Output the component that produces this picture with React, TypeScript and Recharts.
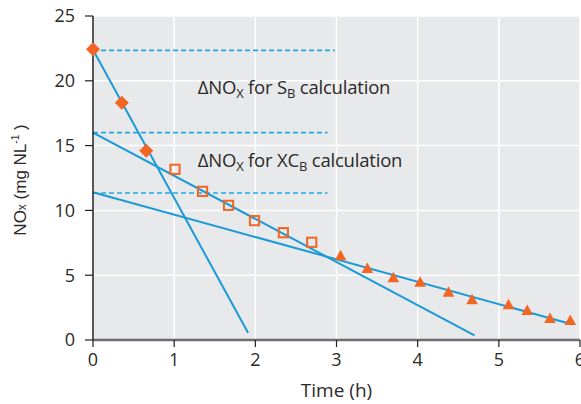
import React from "react";
import {
  ComposedChart,
  XAxis,
  YAxis,
  CartesianGrid,
  Line,
  Scatter,
  ReferenceLine,
  ReferenceDot,
} from "recharts";

// ---- data ----
const xTicks = [0, 1, 2, 3, 4, 5, 6];
const yTicks = [0, 5, 10, 15, 20, 25];

const diamondT = [0, 0.355, 0.656];
const diamondV = [22.43, 18.31, 14.61];

const squareT = [1.01, 1.35, 1.67, 1.99, 2.345, 2.695];
const squareV = [13.17, 11.47, 10.39, 9.21, 8.28, 7.54];

const triangleT = [3.05, 3.38, 3.7, 4.03, 4.38, 4.67, 5.12, 5.35, 5.63, 5.88];
const triangleV = [6.46, 5.48, 4.76, 4.42, 3.65, 3.06, 2.68, 2.24, 1.62, 1.47];

// fitted trend lines: [start t, start v, end t, end v]
const trendS = [0, 22.4, 1.91, 0.56];
const trendXC = [0, 16.0, 4.7, 0.36];
const trendSlow = [0, 11.4, 5.91, 1.2];

// dashed reference levels
const dashLevels = [22.35, 16.0, 11.34];
const dashEnds = [2.98, 2.89, 2.89];

// annotation anchors (t, v)
const noteS = [1.29, 18.96];
const noteXC = [1.29, 13.37];

const toPts = (t: number[], v: number[]) => t.map((x, i) => ({ x, y: v[i] }));
const seg = (s: number[]) => [
  { x: s[0], y: s[1] },
  { x: s[2], y: s[3] },
];

const ORANGE = "#f26522";
const BLUE = "#1a9ad6";
const DASH = "#22a8e4";
const TXT = "#2b2a29";
const FONT = "'Open Sans', sans-serif";

const Diamond = (p: any) => {
  const { cx, cy } = p;
  const r = 7;
  return (
    <polygon
      points={`${cx},${cy - r} ${cx + r},${cy} ${cx},${cy + r} ${cx - r},${cy}`}
      fill={ORANGE}
    />
  );
};

const Square = (p: any) => {
  const { cx, cy } = p;
  const h = 4.6;
  return (
    <rect
      x={cx - h}
      y={cy - h}
      width={2 * h}
      height={2 * h}
      fill="none"
      stroke={ORANGE}
      strokeWidth={2}
    />
  );
};

const Triangle = (p: any) => {
  const { cx, cy } = p;
  return (
    <polygon
      points={`${cx},${cy - 6.5} ${cx + 5.8},${cy + 4} ${cx - 5.8},${cy + 4}`}
      fill={ORANGE}
    />
  );
};

const NoteShape = (label: "S" | "XC") => (p: any) => {
  const { cx, cy } = p;
  return (
    <text x={cx} y={cy} fill={TXT} fontFamily={FONT} fontSize={18.5} letterSpacing={-0.2}>
      <tspan>ΔNO</tspan>
      <tspan fontSize={13} dy={4}>X</tspan>
      <tspan dy={-4}>{label === "S" ? " for S" : " for XC"}</tspan>
      <tspan fontSize={13} dy={4}>B</tspan>
      <tspan dy={-4}> calculation</tspan>
    </text>
  );
};

const YLabel = () => (
  <text
    x={0}
    y={0}
    transform="translate(26,180) rotate(-90)"
    textAnchor="middle"
    fill={TXT}
    fontFamily="'Liberation Sans', Arial, sans-serif"
    fontSize={17}
  >
    <tspan>NO</tspan>
    <tspan fontSize={12}>x</tspan>
    <tspan> (mg NL</tspan>
    <tspan fontSize={10} dy={-7}>-1</tspan>
    <tspan dy={7}> )</tspan>
  </text>
);

const XLabel = (p: any) => {
  const vb = p.viewBox || {};
  return (
    <text
      x={vb.x + vb.width / 2}
      y={397}
      textAnchor="middle"
      fill={TXT}
      fontFamily={FONT}
      fontSize={19}
    >
      Time (h)
    </text>
  );
};

export default function App() {
  return (
    <div style={{ position: "absolute", left: 0, top: 0, background: "#fff" }}>
      <ComposedChart
        width={581}
        height={404}
        margin={{ top: 16, right: 1, bottom: 0, left: 0 }}
      >
        <CartesianGrid fill="#e8e9eb" stroke="#ffffff" strokeWidth={1.5} />
        <XAxis
          type="number"
          dataKey="x"
          domain={[0, 6]}
          ticks={xTicks}
          interval={0}
          height={64}
          axisLine={{ stroke: "#6d6e71", strokeWidth: 2.5 }}
          tickLine={{ stroke: "#231f20", strokeWidth: 1.2 }}
          tickSize={7}
          tickMargin={6}
          tick={{ fill: TXT, fontSize: 18, fontFamily: FONT }}
          label={<XLabel />}
        />
        <YAxis
          type="number"
          dataKey="y"
          domain={[0, 25]}
          ticks={yTicks}
          interval={0}
          width={93}
          axisLine={{ stroke: "#231f20", strokeWidth: 1.5 }}
          tickLine={{ stroke: "#231f20", strokeWidth: 1.2 }}
          tickSize={8}
          tickMargin={10}
          tick={{ fill: TXT, fontSize: 18, fontFamily: FONT }}
          label={<YLabel />}
        />
        {dashLevels.map((v, i) => (
          <ReferenceLine
            key={"d" + i}
            segment={[
              { x: 0, y: v },
              { x: dashEnds[i], y: v },
            ]}
            stroke={DASH}
            strokeWidth={1.6}
            strokeDasharray="5 3"
            ifOverflow="visible"
          />
        ))}
        <Line
          data={seg(trendS)}
          dataKey="y"
          stroke={BLUE}
          strokeWidth={2}
          dot={false}
          isAnimationActive={false}
        />
        <Line
          data={seg(trendXC)}
          dataKey="y"
          stroke={BLUE}
          strokeWidth={2}
          dot={false}
          isAnimationActive={false}
        />
        <Line
          data={seg(trendSlow)}
          dataKey="y"
          stroke={BLUE}
          strokeWidth={2}
          dot={false}
          isAnimationActive={false}
        />
        <Scatter
          data={toPts(diamondT, diamondV)}
          shape={Diamond}
          isAnimationActive={false}
        />
        <Scatter
          data={toPts(squareT, squareV)}
          shape={Square}
          isAnimationActive={false}
        />
        <Scatter
          data={toPts(triangleT, triangleV)}
          shape={Triangle}
          isAnimationActive={false}
        />
        <ReferenceDot x={noteS[0]} y={noteS[1]} shape={NoteShape("S")} ifOverflow="visible" />
        <ReferenceDot x={noteXC[0]} y={noteXC[1]} shape={NoteShape("XC")} ifOverflow="visible" />
      </ComposedChart>
    </div>
  );
}
